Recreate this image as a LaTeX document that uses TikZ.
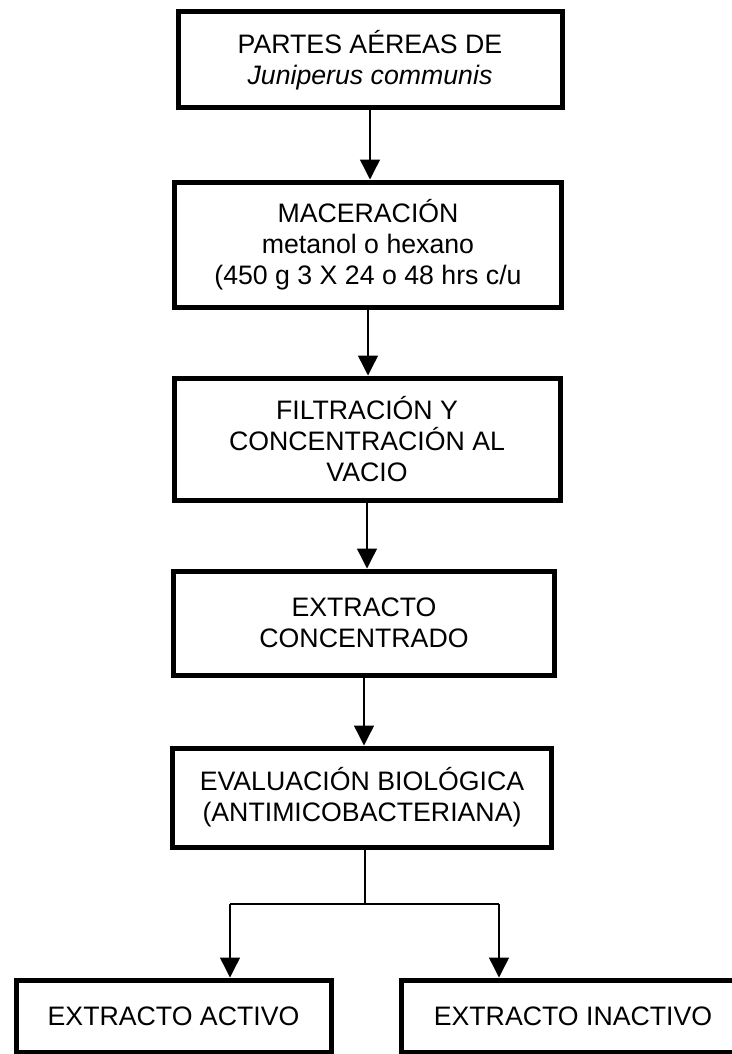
\documentclass[tikz,border=0pt]{standalone}
\usepackage{fontspec}
\setmainfont{Liberation Sans}
\usepackage{tikz}
\usetikzlibrary{arrows.meta}

\begin{document}
\begin{tikzpicture}[x=1pt,y=-1pt,
    every node/.style={draw,rectangle,line width=5pt,align=center,inner sep=0pt,
      font=\fontsize{26.7}{31}\selectfont},
    link/.style={line width=1.4pt},
    flecha/.style={line width=1.4pt,-{Triangle[width=20pt,length=20pt]}}]
                  \useasboundingbox (0,0) rectangle (731,1054);
                  \node[minimum width=384pt,minimum height=96pt] (a) at (370,60) {PARTES AÉREAS DE\\\textit{Juniperus communis}};
                  \node[minimum width=387pt,minimum height=125pt] (b) at (368,244.5) {MACERACIÓN\\metanol o hexano\\(450 g 3 X 24 o 48 hrs c/u};
                  \node[minimum width=386pt,minimum height=122pt] (c) at (367,439) {FILTRACIÓN Y\\CONCENTRACIÓN AL\\VACIO};
                  \node[minimum width=381pt,minimum height=104pt] (d) at (364,623) {EXTRACTO\\CONCENTRADO};
                  \node[minimum width=379pt,minimum height=99pt] (e) at (362,797.5) {EVALUACIÓN BIOLÓGICA\\(ANTIMICOBACTERIANA)};
                  \node[minimum width=315pt,minimum height=72pt] (f) at (173.5,1016) {EXTRACTO ACTIVO};
                  \node[minimum width=344pt,minimum height=72pt] (g) at (573,1016) {EXTRACTO INACTIVO};
                  \coordinate (s) at (365,904);
                  \coordinate (l) at (230,904);
                  \coordinate (r) at (499,904);
                  \draw[flecha] (a) -- (a |- b.north);
                  \draw[flecha] (b) -- (b |- c.north);
                  \draw[flecha] (c) -- (c |- d.north);
                  \draw[flecha] (d) -- (d |- e.north);
                  \draw[link] (e.south -| s) -- (s);
                  \draw[link] (l) -- (r);
                  \draw[flecha] (l) -- (l |- f.north);
                  \draw[flecha] (r) -- (r |- g.north);
              \end{tikzpicture}
\end{document}
